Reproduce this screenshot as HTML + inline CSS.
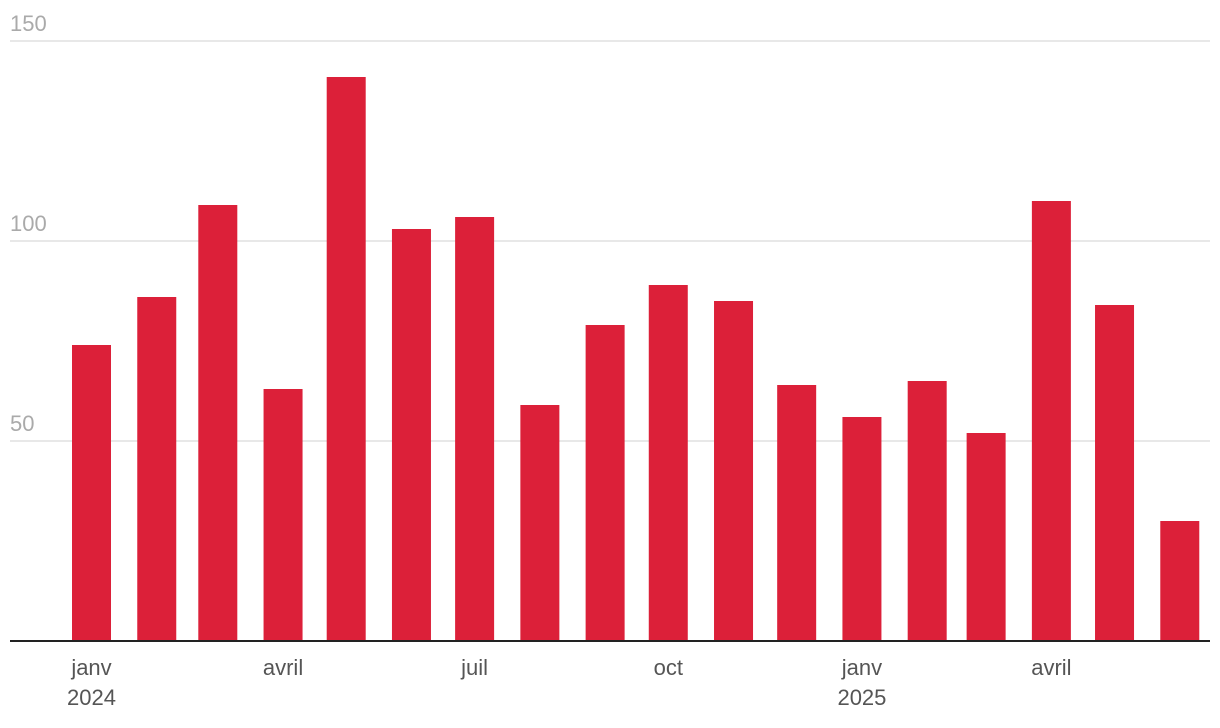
<!DOCTYPE html>
<html><head><meta charset="utf-8"><style>
html,body{margin:0;padding:0;background:#fff;}
svg{display:block;font-family:"Liberation Sans",Roboto,sans-serif;}
</style></head><body>
<svg id="chart" width="1220" height="728" viewBox="0 0 1220 728"></svg>
<script>
const months = ["2024-01","2024-02","2024-03","2024-04","2024-05","2024-06","2024-07","2024-08","2024-09","2024-10","2024-11","2024-12","2025-01","2025-02","2025-03","2025-04","2025-05","2025-06"];
const values = [74,86,109,63,141,103,106,59,79,89,85,64,56,65,52,110,84,30];
const yTicks = [50,100,150];
const xTickMonths = ["2024-01","2024-04","2024-07","2024-10","2025-01","2025-04"];
const xTickLabels = ["janv","avril","juil","oct","janv","avril"];
const xTickYears = ["2024","","","","2025",""];

const svg = document.getElementById('chart');
const NS = 'http://www.w3.org/2000/svg';
const baseY = 641, pxPerUnit = 4, left = 10, right = 1210;
const y = v => baseY - v * pxPerUnit;
const day0 = Date.UTC(2024,0,15);
const x = m => { const [yy,mm] = m.split('-').map(Number); return 91.5 + (Date.UTC(yy,mm-1,15) - day0)/86400000 * 2.105; };
const barW = 39;

function mk(tag, attrs){ const e=document.createElementNS(NS,tag); for(const k in attrs) e.setAttribute(k,attrs[k]); svg.appendChild(e); return e; }

yTicks.forEach(t=>{
  const g = mk('line',{x1:left,x2:right,y1:y(t),y2:y(t),stroke:'#e0e0e0','stroke-width':1.5});
  
  
  const l = mk('text',{x:left,y:y(t)-10,fill:'#aaaaaa','font-size':22});
  l.textContent = t;
  
  
});

months.forEach((m,i)=>{
  const r = mk('rect',{x:x(m)-barW/2,y:y(values[i]),width:barW,height:values[i]*pxPerUnit,fill:'#dc2039'});
  
  
});

const ax = mk('line',{x1:left,x2:right,y1:baseY,y2:baseY,stroke:'#222','stroke-width':2});



xTickMonths.forEach((m,i)=>{
  const t = mk('text',{x:x(m),y:675,fill:'#555','font-size':22,'text-anchor':'middle'});
  t.textContent = xTickLabels[i];
  
  
  if (xTickYears[i]) {
    const yt = mk('text',{x:x(m),y:705,fill:'#555','font-size':22,'text-anchor':'middle'});
    yt.textContent = xTickYears[i];
    
    
  }
});
</script>
</body></html>
